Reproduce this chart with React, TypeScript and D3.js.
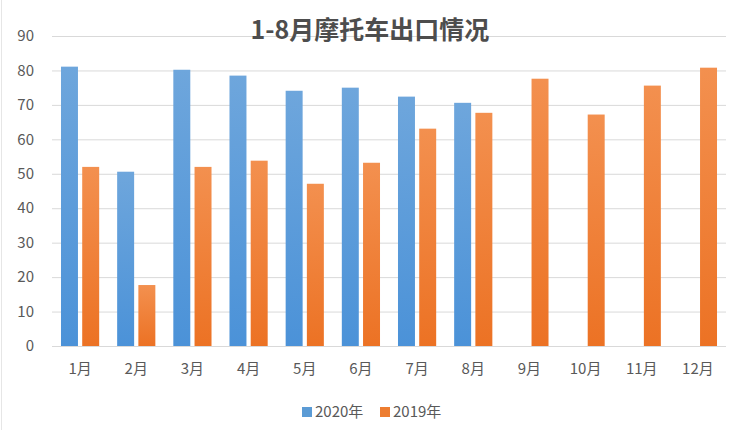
import { useEffect, useRef } from "react"
import * as d3 from "d3"

const months = ["1月", "2月", "3月", "4月", "5月", "6月", "7月", "8月", "9月", "10月", "11月", "12月"]
const series = ["2020年", "2019年"]
const values2020: (number | null)[] = [81.1, 50.6, 80.2, 78.5, 74.1, 75.0, 72.4, 70.6, null, null, null, null]
const values2019: (number | null)[] = [52.0, 17.7, 52.0, 53.8, 47.1, 53.2, 63.1, 67.7, 77.6, 67.2, 75.6, 80.8]
const yTicks = [0, 10, 20, 30, 40, 50, 60, 70, 80, 90]
const title = "1-8月摩托车出口情况"

const font = "'Noto Sans CJK SC', 'Microsoft YaHei', sans-serif"

export default function App() {

  const ref = useRef<SVGSVGElement | null>(null)

  useEffect(() => {

    const svg = d3.select(ref.current)
    svg.selectAll("*").remove()

    const width = 738
    const height = 430
    const left = 52
    const right = 726
    const top = 36
    const bottom = 346

    svg.attr("width", width).attr("height", height)

    svg.append("rect")
      .attr("width", width).attr("height", height)
      .attr("fill", "#fff")

    svg.append("line")
      .attr("x1", 1.5).attr("x2", 1.5).attr("y1", 0).attr("y2", height)
      .attr("stroke", "#e6e6e6")

    const defs = svg.append("defs")
    const grads = [
      { id: "g2020", top: "#6ea6dc", bottom: "#4b92d8" },
      { id: "g2019", top: "#f3904f", bottom: "#ec7224" }
    ]
    grads.forEach(g => {
      const lg = defs.append("linearGradient")
        .attr("id", g.id).attr("x1", 0).attr("x2", 0).attr("y1", 0).attr("y2", 1)
      lg.append("stop").attr("offset", "0%").attr("stop-color", g.top)
      lg.append("stop").attr("offset", "100%").attr("stop-color", g.bottom)
    })

    const x0 = d3.scaleBand<string>()
      .domain(months)
      .range([left, right])
      .paddingInner(0.32)
      .paddingOuter(0.16)

    const x1 = d3.scaleBand<string>()
      .domain(series)
      .range([0, x0.bandwidth()])
      .paddingInner(0.2)

    const y = d3.scaleLinear()
      .domain([0, 90])
      .range([bottom, top])

    // gridlines
    svg.append("g")
      .selectAll("line")
      .data(yTicks)
      .enter()
      .append("line")
      .attr("x1", left).attr("x2", right)
      .attr("y1", d => y(d) + 0.5).attr("y2", d => y(d) + 0.5)
      .attr("stroke", "#d9d9d9")
      .attr("stroke-width", 1)

    // y labels
    svg.append("g")
      .selectAll("text")
      .data(yTicks)
      .enter()
      .append("text")
      .attr("x", 34)
      .attr("y", d => y(d))
      .attr("dy", "0.35em")
      .attr("text-anchor", "end")
      .attr("font-family", font)
      .attr("font-size", 15)
      .attr("fill", "#595959")
      .text(d => d)

    const data = [
      { name: series[0], values: values2020, fill: "url(#g2020)" },
      { name: series[1], values: values2019, fill: "url(#g2019)" }
    ]

    data.forEach(s => {
      svg.append("g")
        .selectAll("rect")
        .data(months.map((m, i) => ({ m, v: s.values[i] })).filter(d => d.v !== null))
        .enter()
        .append("rect")
        .attr("x", d => x0(d.m)! + x1(s.name)!)
        .attr("y", d => y(d.v as number))
        .attr("width", x1.bandwidth())
        .attr("height", d => bottom - y(d.v as number))
        .attr("fill", s.fill)
    })

    // x labels
    svg.append("g")
      .selectAll("text")
      .data(months)
      .enter()
      .append("text")
      .attr("x", d => x0(d)! + x0.bandwidth() / 2)
      .attr("y", 369)
      .attr("dy", "0.35em")
      .attr("text-anchor", "middle")
      .attr("font-family", font)
      .attr("font-size", 15)
      .attr("fill", "#595959")
      .text(d => d)

    svg.append("text")
      .attr("x", 370)
      .attr("y", 30)
      .attr("dy", "0.35em")
      .attr("text-anchor", "middle")
      .attr("font-family", font)
      .attr("font-size", 25)
      .attr("font-weight", "bold")
      .attr("fill", "#4d4d4d")
      .text(title)

    // legend
    const legend = [
      { name: series[0], color: "#5b9bd5", x: 302 },
      { name: series[1], color: "#ed7d31", x: 380 }
    ]
    const lg = svg.append("g")
      .selectAll("g")
      .data(legend)
      .enter()
      .append("g")
      .attr("transform", d => `translate(${d.x},412)`)
    lg.append("rect")
      .attr("x", 0).attr("y", -5)
      .attr("width", 10).attr("height", 10)
      .attr("fill", d => d.color)
    lg.append("text")
      .attr("x", 13)
      .attr("dy", "0.35em")
      .attr("font-family", font)
      .attr("font-size", 15)
      .attr("fill", "#595959")
      .text(d => d.name)

  }, [])

  return (
    <div style={{ position: "absolute", left: 0, top: 0 }}>
      <svg ref={ref} style={{ display: "block" }} />
    </div>
  )
}
